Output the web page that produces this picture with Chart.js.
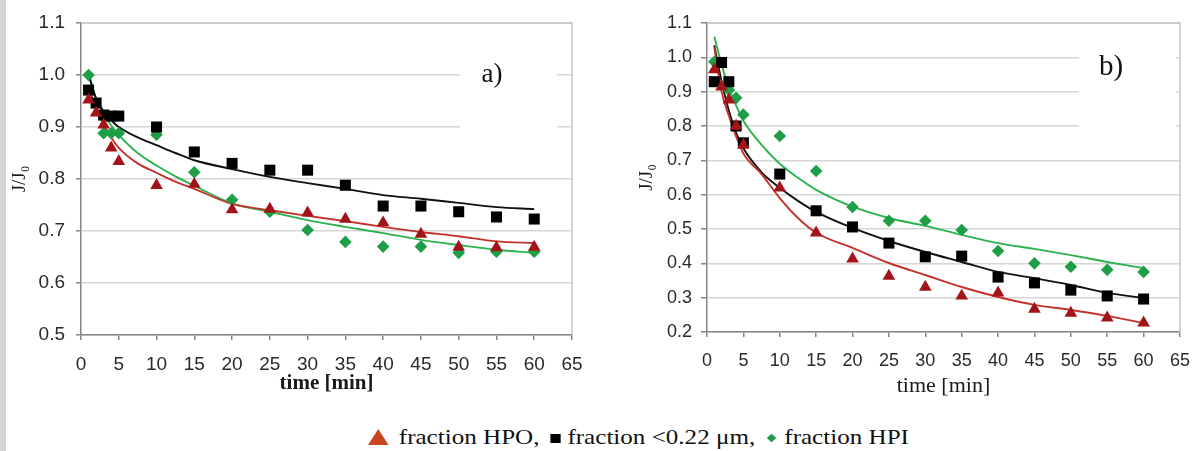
<!DOCTYPE html>
<html><head><meta charset="utf-8">
<script src="https://cdn.jsdelivr.net/npm/chart.js@4.4.1/dist/chart.umd.min.js"></script>
<style>
html,body{margin:0;padding:0;background:#fff;width:1203px;height:451px;overflow:hidden;position:relative}
#strip{position:absolute;left:0;top:0;width:6px;height:451px;background:#d4d4d4}
#ca{position:absolute;left:6px;top:0}
#cb{position:absolute;left:600px;top:0}
#legend{position:absolute;left:368px;top:424px;font:22px "Liberation Serif","Times New Roman",serif;color:#111;white-space:nowrap;transform:scaleX(1.14);transform-origin:left top;line-height:26px}
.tri{display:inline-block;width:0;height:0;border-left:9px solid transparent;border-right:9px solid transparent;border-bottom:16px solid #c8461e;margin-right:9px;vertical-align:-1px}
.sq{display:inline-block;width:9px;height:9px;background:#000;margin:0 6px 0 4px;vertical-align:1px}
.dia{display:inline-block;width:6px;height:6px;background:#1e9e45;transform:rotate(45deg);margin:0 8px 0 6px;vertical-align:3px}
</style></head>
<body>
<div id="strip"></div>
<canvas id="ca" width="594" height="400"></canvas>
<canvas id="cb" width="603" height="400"></canvas>
<div id="legend"><span class="tri"></span>fraction HPO, <span class="sq"></span>fraction &lt;0.22 μm, <span class="dia"></span>fraction HPI</div>
<script>
// ---- data ----
const xTicks = [0,5,10,15,20,25,30,35,40,45,50,55,60,65];
const yTicksA = [0.5,0.6,0.7,0.8,0.9,1.0,1.1];
const yTicksB = [0.2,0.3,0.4,0.5,0.6,0.7,0.8,0.9,1.0,1.1];
const tMeas = [1,2,3,4,5,10,15,20,25,30,35,40,45,50,55,60];
const tFit  = [1,2,3,4,5,7.5,10,12.5,15,20,25,30,35,40,45,50,55,60];

// panel a) measured
const hpoA   = [0.952,0.927,0.904,0.860,0.834,0.788,0.790,0.741,0.742,0.735,0.723,0.716,0.694,0.669,0.668,0.669];
const smallA = [0.971,0.946,0.923,0.921,0.921,0.900,0.852,0.830,0.817,0.817,0.788,0.748,0.748,0.737,0.727,0.723];
const hpiA   = [1.000,null,0.888,0.888,0.888,0.885,0.813,0.760,0.737,0.702,0.679,0.670,0.670,0.658,0.660,0.660];
// panel a) fitted curves
const hpoAFit   = [0.978,0.935,0.905,0.880,0.860,0.830,0.812,0.795,0.781,0.752,0.740,0.729,0.719,0.708,0.698,0.690,0.680,0.677];
const smallAFit = [1.000,0.955,0.930,0.913,0.900,0.880,0.865,0.850,0.836,0.819,0.804,0.792,0.781,0.769,0.762,0.754,0.746,0.742];
const hpiAFit   = [1.005,0.955,0.925,0.903,0.885,0.850,0.826,0.805,0.787,0.753,0.737,0.721,0.708,0.696,0.683,0.673,0.664,0.658];

// panel b) measured
const hpoB   = [0.964,0.914,0.876,0.800,0.745,0.620,0.489,0.413,0.363,0.331,0.305,0.314,0.267,0.255,0.241,0.227];
const smallB = [0.929,0.985,0.929,0.800,0.751,0.660,0.553,0.506,0.459,0.419,0.421,0.360,0.343,0.322,0.305,0.296];
const hpiB   = [0.987,null,0.905,0.882,0.833,0.771,0.669,0.564,0.524,0.524,0.497,0.436,0.400,0.390,0.381,0.375];
// panel b) fitted curves
const hpoBFit   = [1.030,0.900,0.830,0.770,0.720,0.660,0.590,0.532,0.489,0.445,0.401,0.366,0.331,0.302,0.279,0.264,0.247,0.226];
const smallBFit = [1.035,0.930,0.845,0.780,0.735,0.665,0.620,0.582,0.550,0.503,0.465,0.433,0.404,0.375,0.357,0.337,0.314,0.299];
const hpiBFit   = [1.060,0.980,0.910,0.860,0.815,0.745,0.690,0.649,0.614,0.565,0.532,0.509,0.483,0.459,0.442,0.424,0.404,0.386];

// ---- helpers ----
function pts(ts, vs){ return ts.map((t,i)=>vs[i]==null?null:{x:t,y:vs[i]}).filter(p=>p); }

const framePlugin = {
  id:'frame',
  beforeDatasetsDraw(chart, args, o){
    const {ctx, chartArea:a} = chart;
    ctx.save();
    ctx.strokeStyle='#c6c6c6'; ctx.lineWidth=1.5;
    ctx.beginPath(); ctx.moveTo(a.left,a.top); ctx.lineTo(a.right,a.top); ctx.lineTo(a.right,a.bottom); ctx.stroke();
    ctx.fillStyle='#fff'; ctx.fillRect(o.box[0],o.box[1],o.box[2],o.box[3]);
    ctx.fillStyle='#111'; ctx.font=o.font; ctx.textAlign='center'; ctx.textBaseline='middle';
    ctx.fillText(o.label,o.lx,o.ly);
    ctx.restore();
  }
};

const RED='#a3141a', REDL='#c3332b', GRN='#1e9e45', GRNL='#2cb24f', BLK='#000';

function build(id, c){
  const line = (d,col)=>({data:pts(tFit,d),showLine:true,borderColor:col,borderWidth:1.9,pointRadius:0,tension:0.35,cubicInterpolationMode:'monotone',order:2});
  const ds = [
    line(c.fitHpo,REDL), line(c.fitSmall,'#111'), line(c.fitHpi,GRNL),
    {data:pts(tMeas,c.hpo),pointStyle:'triangle',pointRadius:7.3,backgroundColor:RED,borderColor:RED,borderWidth:0,order:1},
    {data:pts(tMeas,c.small),pointStyle:'rect',pointRadius:7.8,backgroundColor:BLK,borderColor:BLK,borderWidth:0,order:1},
    {data:pts(tMeas,c.hpi),pointStyle:'rectRot',pointRadius:6.3,backgroundColor:GRN,borderColor:GRN,borderWidth:0,order:1}
  ];
  return new Chart(document.getElementById(id), {
    type:'scatter',
    data:{datasets:ds},
    options:{
      responsive:false, animation:false, events:[],
      layout:{padding:{top:c.padTop,right:c.padRight,left:0,bottom:0}},
      plugins:{legend:{display:false},tooltip:{enabled:false},frame:c.frame},
      scales:{
        x:{type:'linear',min:0,max:65,
          afterBuildTicks:s=>{s.ticks=xTicks.map(v=>({value:v}));},
          afterFit:s=>{s.height=c.xH;},
          grid:{drawOnChartArea:false,tickLength:5,tickColor:'#858585',lineWidth:1.5},
          border:{color:'#858585',width:1.5},
          ticks:{font:c.tickFont,color:'#2a2a2a',padding:c.xPad,maxRotation:0,autoSkip:false},
          title:{display:true,text:'time [min]',font:c.xTitleFont,color:'#1a1a1a',padding:{top:0,bottom:c.xTitlePad}}},
        y:{type:'linear',min:c.yTicks[0],max:c.yTicks[c.yTicks.length-1],
          afterBuildTicks:s=>{s.ticks=c.yTicks.map(v=>({value:v}));},
          afterFit:s=>{s.width=c.yW;},
          grid:{color:'#d6d6d6',lineWidth:1.5,tickLength:c.yTickLen,tickColor:'#858585'},
          border:{color:'#858585',width:1.5},
          ticks:{font:c.tickFont,color:'#2a2a2a',padding:c.yPad,callback:v=>Number(v).toFixed(1)},
          title:{display:true,text:'J/J₀',font:{family:'"Liberation Serif",serif',size:19},color:'#1a1a1a',padding:{top:c.yTitlePad,bottom:0}}}
      }
    },
    plugins:[framePlugin]
  });
}

build('ca',{
  hpo:hpoA, small:smallA, hpi:hpiA, fitHpo:hpoAFit, fitSmall:smallAFit, fitHpi:hpiAFit,
  yTicks:yTicksA, padTop:23, padRight:28, xH:65, yW:75, yTickLen:5, xPad:13, yPad:11,
  tickFont:{family:'"Liberation Sans",Arial,sans-serif',size:19},
  xTitleFont:{family:'"Liberation Serif",serif',size:21,weight:'bold'}, xTitlePad:4, yTitlePad:3,
  frame:{box:[454,50,97,90],label:'a)',lx:486,ly:75,font:'27px "Liberation Serif",serif'}
});
build('cb',{
  hpo:hpoB, small:smallB, hpi:hpiB, fitHpo:hpoBFit, fitSmall:smallBFit, fitHpi:hpiBFit,
  yTicks:yTicksB, padTop:23, padRight:15, xH:68, yW:107, yTickLen:6, xPad:13, yPad:9,
  tickFont:{family:'"Liberation Sans",Arial,sans-serif',size:18},
  xTitleFont:{family:'"Liberation Serif",serif',size:22}, xTitlePad:1, yTitlePad:36,
  frame:{box:[479,40,97,100],label:'b)',lx:511,ly:67,font:'29px "Liberation Serif",serif'}
});
</script>
</body></html>
